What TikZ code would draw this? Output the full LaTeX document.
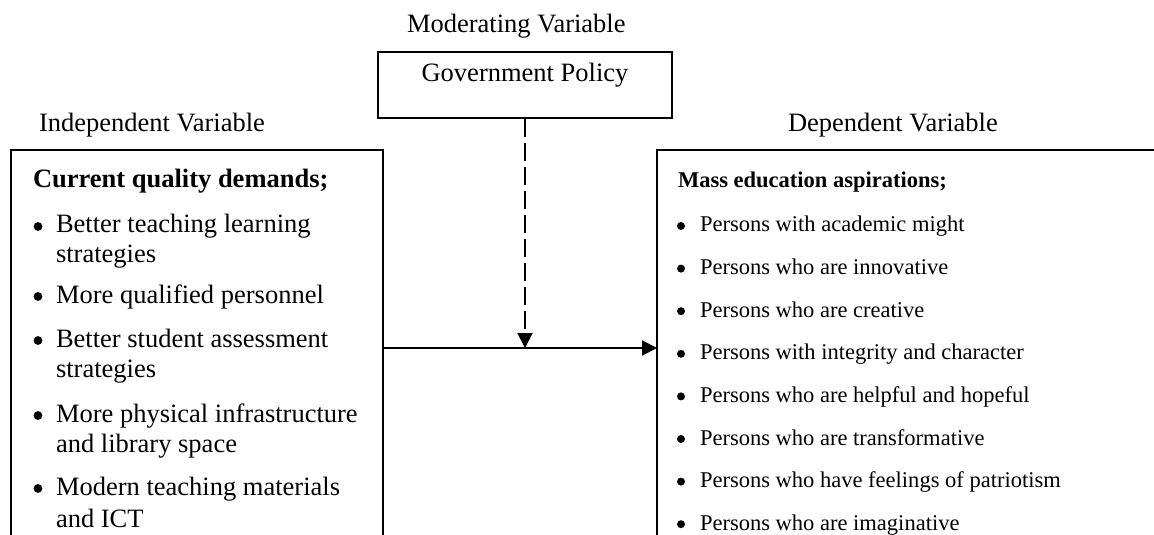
\documentclass[tikz,border=0pt]{standalone}
\usepackage{fontspec}
\setmainfont{Liberation Serif}
\usetikzlibrary{arrows.meta}

\tikzset{
    big/.style={font=\fontsize{13.3}{15.25}\selectfont},
    small/.style={font=\fontsize{11.3}{13}\selectfont},
    line/.style={anchor=base west, inner sep=0pt},
    dot/.style={circle, fill, inner sep=0pt, minimum size=4.4bp},
    sdot/.style={dot, minimum size=4bp},
}

\begin{document}
\begin{tikzpicture}[x=0.5bp, y=-0.5bp, line width=1bp,
    >={Triangle[length=7.5bp, width=7.5bp]}]
    \useasboundingbox (0,0) rectangle (1154,535);

        % headings over the three parts
        \node[big, line] (modlabel) at (406,33) {Moderating Variable};
        \node[big, line] (indlabel) at (38,132) {Independent Variable};
        \node[big, line] (deplabel) at (787,132) {Dependent Variable};

        % moderating variable
        \node[big, draw, anchor=base, inner sep=0pt, minimum width=147bp,
              text height=15bp, text depth=18bp] (gov) at (525,82) {Government Policy};

        % open boxes, cut at the bottom
        \draw (11,535) |- (383,150) -- (383,535);
        \draw (657,535) |- (1154,150);

        % independent variable
        \node[big, line] (indhead) at (32,188) {\bfseries Current quality demands;};
        \node[dot] (ia) at (38,226.5) {};
        \node[big, line] (ia1) at (55,233) {Better teaching learning};
        \node[big, line] (ia2) at (55,263) {strategies};
        \node[dot] (ib) at (38,296.5) {};
        \node[big, line] (ib1) at (55,303) {More qualified personnel};
        \node[dot] (ic) at (38,340.5) {};
        \node[big, line] (ic1) at (55,347) {Better student assessment};
        \node[big, line] (ic2) at (55,377) {strategies};
        \node[dot] (id) at (38,415.5) {};
        \node[big, line] (id1) at (55,422) {More physical infrastructure};
        \node[big, line] (id2) at (55,452) {and library space};
        \node[dot] (ie) at (38,488.5) {};
        \node[big, line] (ie1) at (55,495) {Modern teaching materials};
        \node[big, line] (ie2) at (55,527) {and ICT};

        % dependent variable
        \node[small, line] (dephead) at (677,188) {\bfseries Mass education aspirations;};
        \node[sdot] (da) at (681,226) {};
        \node[small, line] (da1) at (699,232) {Persons with academic might};
        \node[sdot] (db) at (681,268.6) {};
        \node[small, line] (db1) at (699,274.6) {Persons who are innovative};
        \node[sdot] (dc) at (681,311.2) {};
        \node[small, line] (dc1) at (699,317.2) {Persons who are creative};
        \node[sdot] (dd) at (681,353.8) {};
        \node[small, line] (dd1) at (699,359.8) {Persons with integrity and character};
        \node[sdot] (de) at (681,396.4) {};
        \node[small, line] (de1) at (699,402.4) {Persons who are helpful and hopeful};
        \node[sdot] (df) at (681,439) {};
        \node[small, line] (df1) at (699,445) {Persons who are transformative};
        \node[sdot] (dg) at (681,481.6) {};
        \node[small, line] (dg1) at (699,487.6) {Persons who have feelings of patriotism};
        \node[sdot] (dh) at (681,524.2) {};
        \node[small, line] (dh1) at (699,530.2) {Persons who are imaginative};

        % links
        \coordinate (indout) at (383,348);
        \coordinate (depin) at (657,348);
        \coordinate (meet) at (gov.south |- indout);
        \draw[->] (indout) -- (depin);
        \draw[->, dash pattern=on 9bp off 3bp] (gov.south) -- (meet);
\end{tikzpicture}
\end{document}
